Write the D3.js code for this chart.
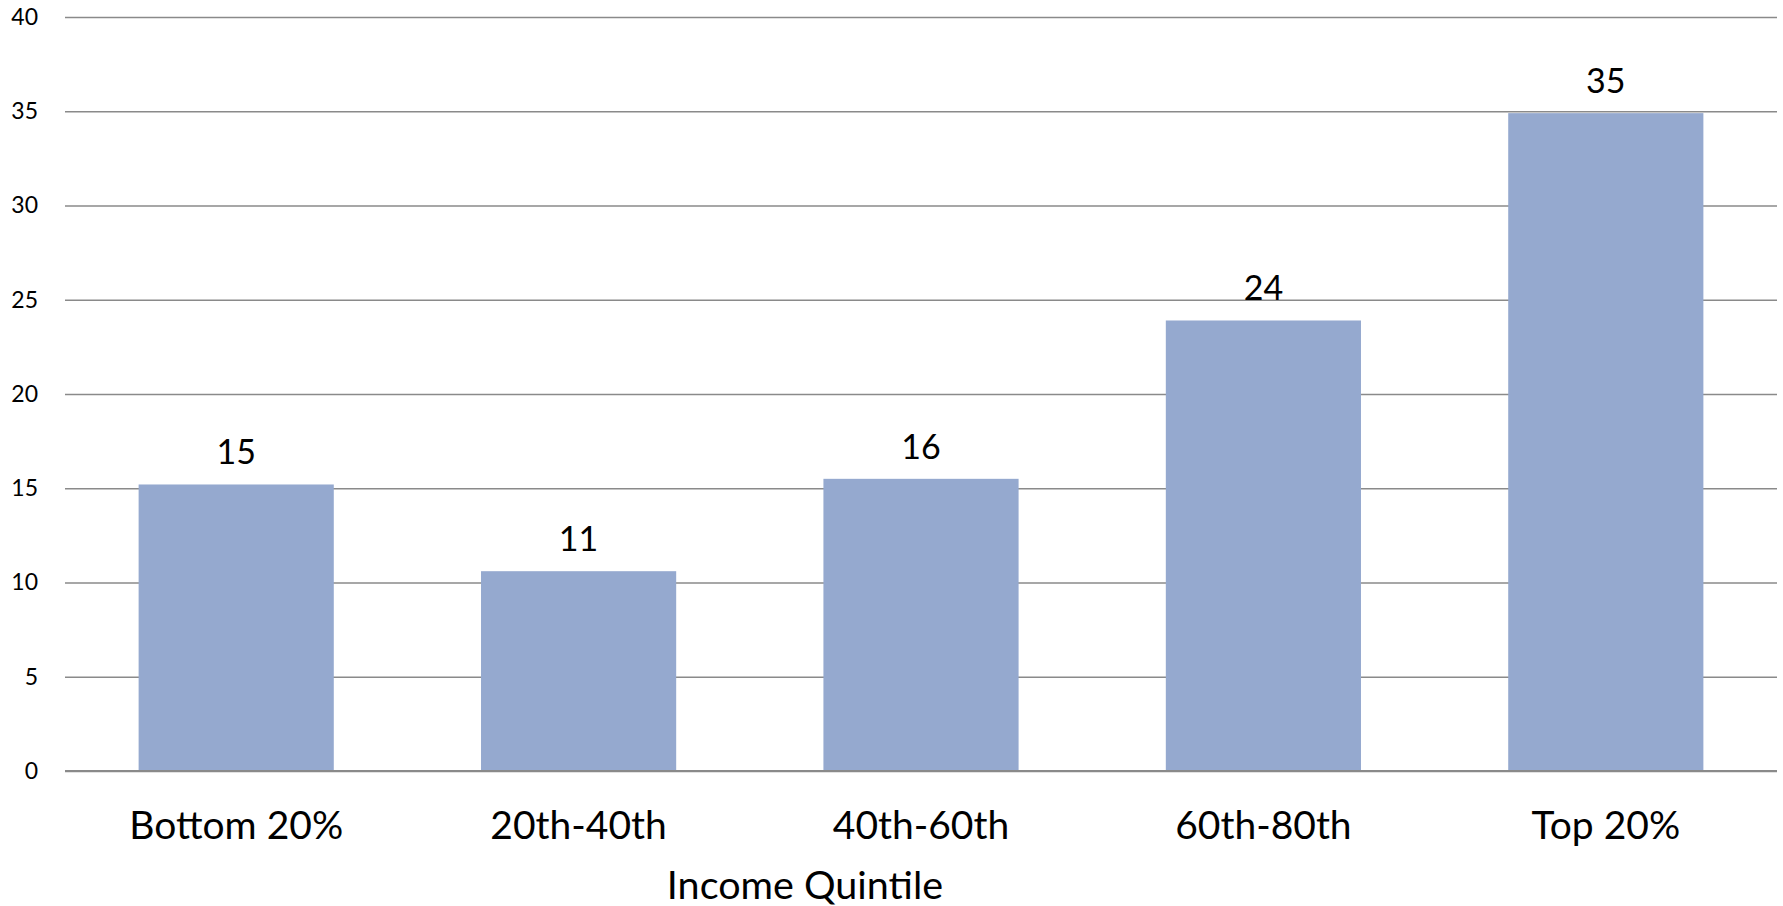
<!DOCTYPE html>
<html>
<head>
<meta charset="utf-8">
<script src="https://cdn.jsdelivr.net/npm/d3@7"></script>
<style>
  html, body { margin: 0; padding: 0; background: #fff; }
  svg { display: block; font-family: Lato, "Open Sans", sans-serif; }
</style>
</head>
<body>
<svg id="chart" width="1783" height="906"></svg>
<script>
// Share by income quintile
const categories = ["Bottom 20%", "20th-40th", "40th-60th", "60th-80th", "Top 20%"];
const values = [15.2, 10.6, 15.5, 23.9, 34.9];
const yTicks = [0, 5, 10, 15, 20, 25, 30, 35, 40];
const xTitle = "Income Quintile";

const W = 1783, H = 906;
const plot = { left: 65, right: 1777, top: 17, bottom: 771 };

const svg = d3.select("#chart");

const x = d3.scaleBand()
  .domain(categories)
  .range([plot.left, plot.right])
  .paddingInner(0.43)
  .paddingOuter(0.215);

const y = d3.scaleLinear()
  .domain([0, 40])
  .range([plot.bottom, plot.top]);

// horizontal gridlines with value labels on the left
const yAxis = d3.axisLeft(y)
  .tickValues(yTicks)
  .tickSize(-(plot.right - plot.left))
  .tickPadding(27)
  .tickFormat(d3.format("d"));

const gy = svg.append("g")
  .attr("transform", `translate(${plot.left},0)`)
  .call(yAxis);
gy.select(".domain").remove();
gy.selectAll(".tick line")
  .attr("stroke", "#8a8a8a")
  .attr("stroke-width", 1.6);
gy.selectAll(".tick text")
  .attr("fill", "#000")
  .attr("font-size", 23)
  .attr("font-family", "Lato, sans-serif");

// bars
svg.append("g")
  .selectAll("rect")
  .data(values)
  .join("rect")
  .attr("x", (d, i) => x(categories[i]))
  .attr("width", x.bandwidth())
  .attr("y", d => y(d))
  .attr("height", d => y(0) - y(d))
  .attr("fill", "#95a9cf");

// baseline drawn over the bar bottoms
svg.append("line")
  .attr("x1", plot.left).attr("x2", plot.right)
  .attr("y1", y(0)).attr("y2", y(0))
  .attr("stroke", "#8a8a8a")
  .attr("stroke-width", 2);

// value labels above bars
svg.append("g")
  .selectAll("text")
  .data(values)
  .join("text")
  .attr("x", (d, i) => x(categories[i]) + x.bandwidth() / 2)
  .attr("y", d => y(d) - 20)
  .attr("text-anchor", "middle")
  .attr("font-size", 34)
  .attr("fill", "#000")
  .text(d => d3.format(".0f")(d));

// category labels
const xAxis = d3.axisBottom(x).tickSize(0).tickPadding(0);
const gx = svg.append("g")
  .attr("transform", `translate(0,${plot.bottom})`)
  .call(xAxis);
gx.select(".domain").remove();
gx.selectAll(".tick text")
  .attr("dy", null)
  .attr("y", 68)
  .attr("fill", "#000")
  .attr("font-size", 39)
  .attr("font-family", "Lato, sans-serif");

// axis title
svg.append("text")
  .attr("x", (plot.left + plot.right) / 2 - 116)
  .attr("y", 899)
  .attr("text-anchor", "middle")
  .attr("font-size", 39.5)
  .attr("fill", "#000")
  .text(xTitle);
</script>
</body>
</html>
